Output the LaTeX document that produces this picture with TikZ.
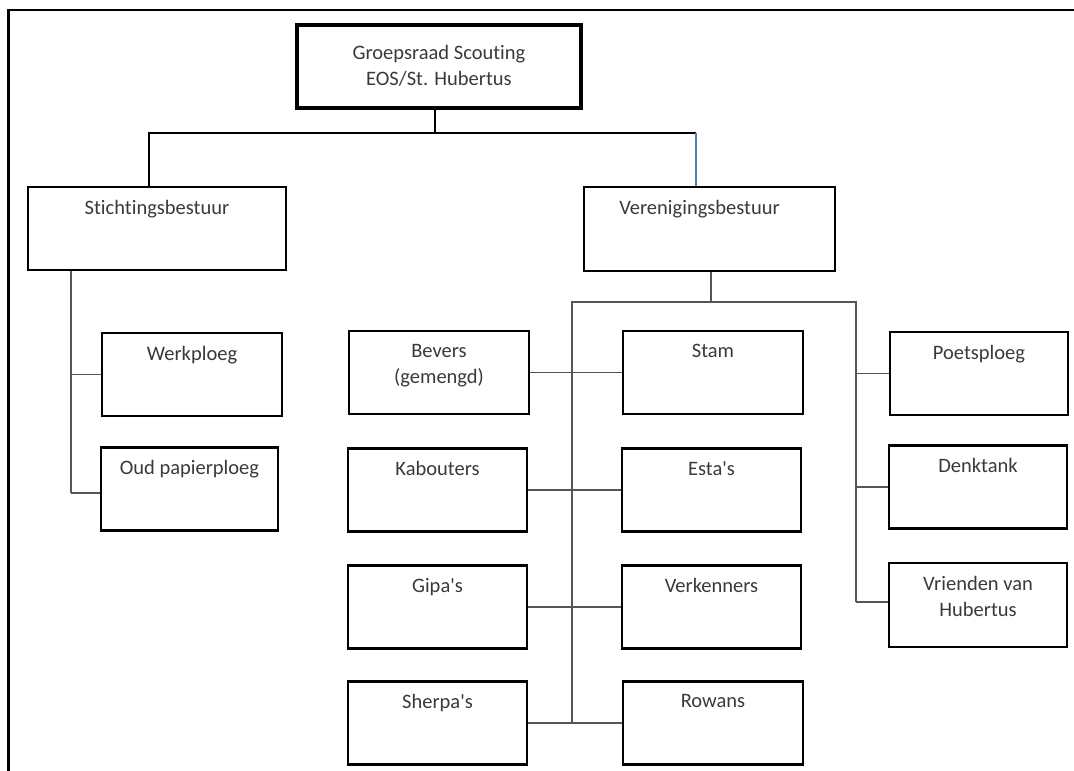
\documentclass[tikz,border=0pt]{standalone}
\usepackage{fontspec}
\setmainfont{Carlito}[Ligatures={NoCommon}]
\definecolor{txtgray}{HTML}{3A3A3A}
\definecolor{linegray}{HTML}{555555}
\definecolor{officeblue}{HTML}{4F81BD}
\begin{document}
\begin{tikzpicture}[x=1pt,y=-1pt,
  orgbox/.style={draw=black, line width=2.6pt, fill=white, rectangle, inner sep=0pt},
  sbox/.style={orgbox, minimum width=179pt, minimum height=83pt},
  lbl/.style={anchor=north, yshift=-14pt, inner sep=0pt, align=center, text=txtgray,
    font=\fontsize{20.5}{26}\selectfont},
  conn/.style={draw=linegray, line width=1.5pt},
  frame/.style={draw=black, line width=2.5pt}]
\useasboundingbox (0,0) rectangle (1074,771);
% frame
\coordinate (fl) at (8.5,771);
\coordinate (fc) at (8.5,10);
\coordinate (fr) at (1074,10);
\draw[frame] (fl) -- (fc) -- (fr);
% nodes
\node[orgbox, minimum width=284pt, minimum height=83pt, line width=3.5pt,
  label={[lbl, yshift=-8pt]north:Groepsraad Scouting\\EOS/St. Hubertus}] (top) at (439,66.5) {};
\node[orgbox, minimum width=258pt, minimum height=83pt, label={[lbl]north:Stichtingsbestuur}] (stich) at (157,228.5) {};
\node[orgbox, minimum width=251pt, minimum height=84pt, label={[lbl, xshift=-10pt]north:Verenigingsbestuur}] (veren) at (709.5,229) {};
\node[sbox, minimum width=180pt, label={[lbl]north:Werkploeg}] (werk) at (192,374.5) {};
\node[sbox, minimum width=177pt, label={[lbl]north:Oud papierploeg}] (oud) at (189.5,489) {};
\node[sbox, minimum width=180pt, label={[lbl]north:Bevers\\(gemengd)}] (bevers) at (439,372.5) {};
\node[sbox, minimum width=180pt, label={[lbl]north:Stam}] (stam) at (713,372.5) {};
\node[sbox, label={[lbl]north:Kabouters}] (kab) at (437.5,490) {};
\node[sbox, label={[lbl]north:Esta\textquotesingle s}] (esta) at (711.5,490) {};
\node[sbox, label={[lbl]north:Gipa\textquotesingle s}] (gipa) at (437.5,607) {};
\node[sbox, label={[lbl]north:Verkenners}] (verk) at (711.5,607) {};
\node[sbox, label={[lbl]north:Sherpa\textquotesingle s}] (sherpa) at (437.5,723) {};
\node[sbox, minimum width=180pt, label={[lbl]north:Rowans}] (rowans) at (713,723) {};
\node[sbox, minimum width=178pt, label={[lbl]north:Poetsploeg}] (poets) at (979,373.5) {};
\node[sbox, minimum width=178pt, label={[lbl]north:Denktank}] (denk) at (978,487) {};
\node[sbox, minimum width=178pt, minimum height=84pt, label={[lbl]north:Vrienden van\\Hubertus}] (vrienden) at (978,605) {};
% top level connectors
\coordinate (tj) at (435,133);
\coordinate (tl) at (149,133);
\coordinate (tr) at (696,133);
\draw[draw=black, line width=1.5pt] (top.south -| tj) -- (tj);
\draw[draw=black, line width=1.5pt] (stich.north -| tl) -- (tl) -- (tr);
\draw[draw=officeblue, line width=1.2pt] (tr) -- (veren.north -| tr);
% Stichtingsbestuur branch
\coordinate (sb) at (71,493);
\draw[conn] (stich.south -| sb) -- (sb);
\draw[conn] (werk.west) -- (werk.west -| sb);
\draw[conn] (oud.west |- sb) -- (sb);
% Verenigingsbestuur branch
\coordinate (vj) at (711,302);
\coordinate (ml) at (572,302);
\coordinate (mr) at (856,302);
\coordinate (mb) at (572,724);
\coordinate (rb) at (856,602);
\draw[conn] (veren.south -| vj) -- (vj);
\draw[conn] (mb) -- (ml) -- (mr) -- (rb);
\draw[conn] (bevers.east) -- (stam.west);
\draw[conn] (kab.east) -- (esta.west);
\draw[conn] (gipa.east) -- (verk.west);
\draw[conn] (sherpa.east) -- (rowans.west);
\draw[conn] (poets.west) -- (poets.west -| rb);
\draw[conn] (denk.west) -- (denk.west -| rb);
\draw[conn] (vrienden.west |- rb) -- (rb);
\end{tikzpicture}
\end{document}
